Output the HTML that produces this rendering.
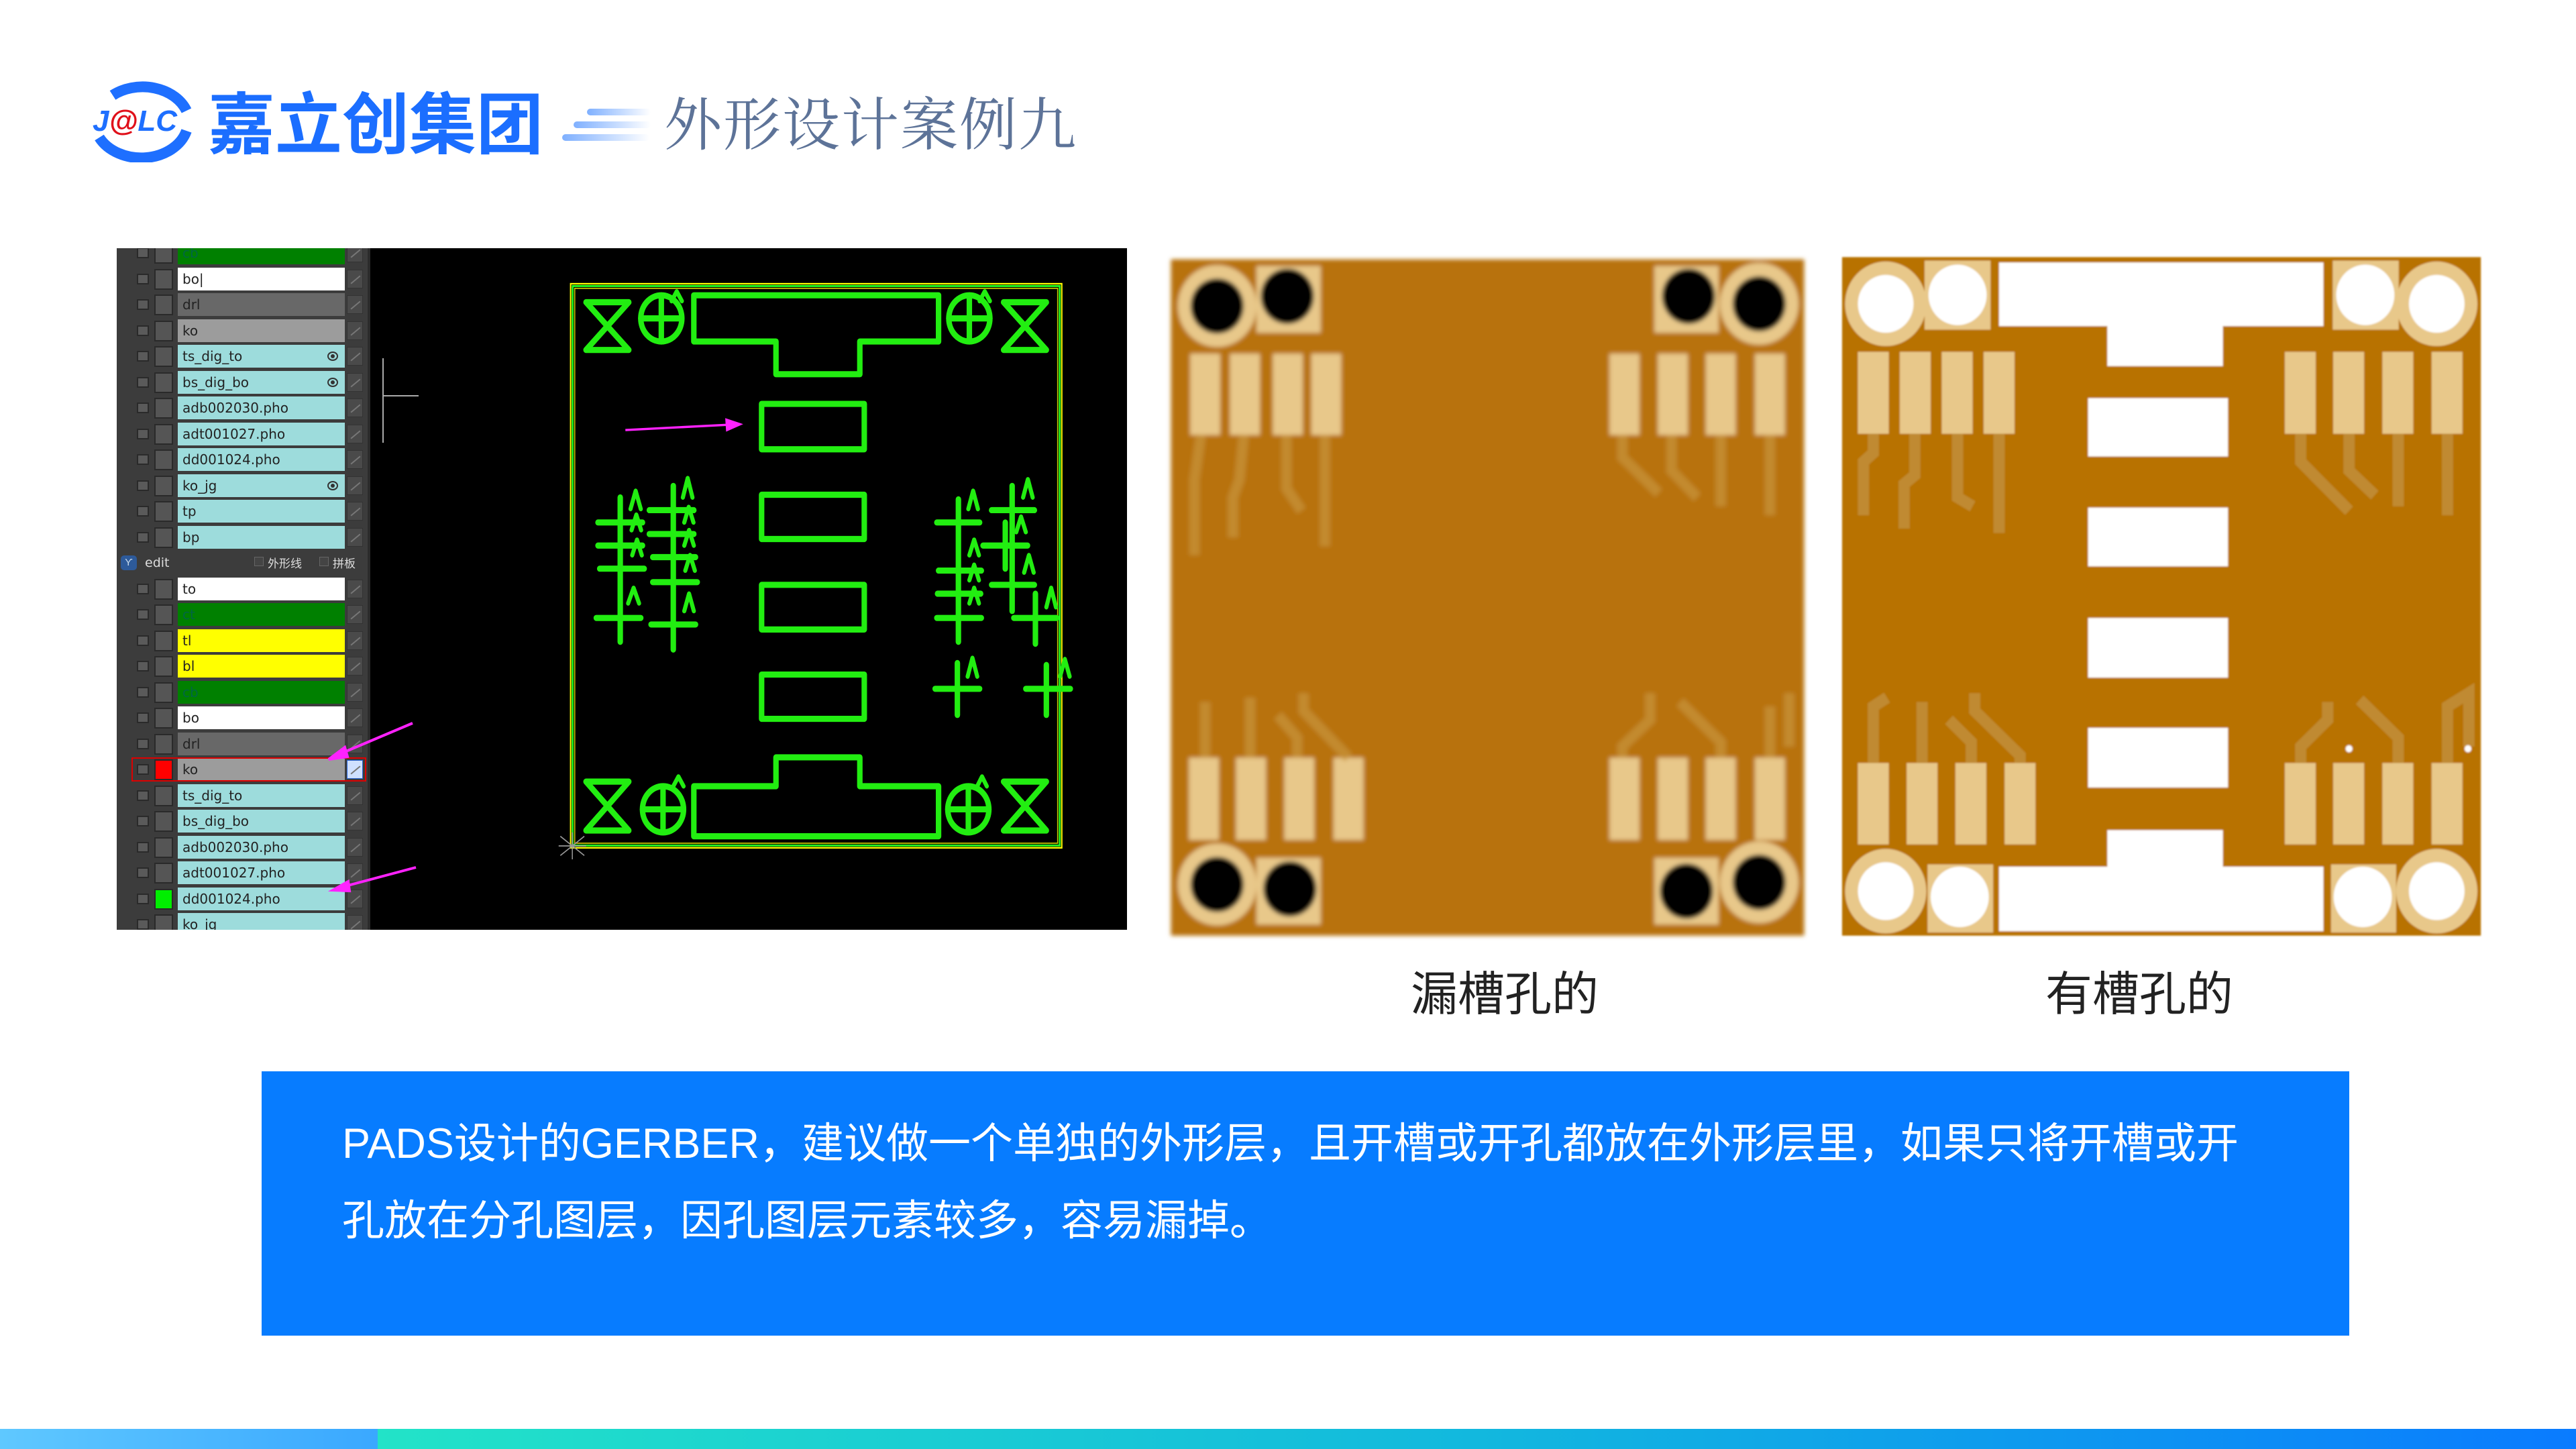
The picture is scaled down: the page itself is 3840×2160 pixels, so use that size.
<!DOCTYPE html>
<html><head><meta charset="utf-8">
<style>
*{margin:0;padding:0;box-sizing:border-box}
body{width:3840px;height:2160px;background:#fff;position:relative;overflow:hidden;font-family:"Liberation Sans","Noto Sans CJK SC",sans-serif}
.abs{position:absolute}
.row{position:absolute;left:0;width:380px;height:34px}
.cb1{position:absolute;left:30px;top:9px;width:18px;height:16px;background:#5a5a5a;border:2px solid #2a2a2a}
.cb2{position:absolute;left:56px;top:2px;width:28px;height:31px;background:#555;border:2px solid #2a2a2a}
.bar{position:absolute;left:91px;top:0;width:249px;height:34px;font-family:"DejaVu Sans",sans-serif;font-size:20px;line-height:34px;padding-left:7px;color:#222}
.ic{position:absolute;left:343px;top:3px;width:24px;height:28px;background:#4a4a4a;border:1px solid #333}
.ic:after{content:"";position:absolute;left:3px;top:13px;width:18px;height:2px;background:#777;transform:rotate(-40deg)}
.eye{position:absolute;right:10px;top:10px;width:16px;height:14px;border:2px solid #333;border-radius:50%}
.eye:after{content:"";position:absolute;left:3px;top:2px;width:6px;height:6px;background:#333;border-radius:50%}
</style></head><body>

<svg class="abs" style="left:128px;top:120px" width="165" height="122" viewBox="0 0 165 122">
 <path d="M40 22 A70 55 0 0 1 150 45" stroke="#1E6FFF" stroke-width="16" fill="none"/>
 <path d="M150 75 A70 55 0 0 1 20 85" stroke="#1E6FFF" stroke-width="16" fill="none"/>
 <text x="10" y="75" font-family="Liberation Sans" font-weight="bold" font-style="italic" font-size="44" fill="#1E6FFF">J<tspan fill="#E0101A">@</tspan>LC</text>
</svg>
<div class="abs" style="left:310px;top:118px;font-size:100px;font-weight:bold;color:#1B6EFF;line-height:120px;font-family:'Noto Sans CJK SC',sans-serif;letter-spacing:0px">嘉立创集团</div>
<div class="abs" style="left:875px;top:162px;width:95px;height:10px;border-radius:5px;background:linear-gradient(90deg,#7fb0ff,rgba(255,255,255,0))"></div>
<div class="abs" style="left:855px;top:181px;width:115px;height:10px;border-radius:5px;background:linear-gradient(90deg,#7fb0ff,rgba(255,255,255,0))"></div>
<div class="abs" style="left:838px;top:200px;width:130px;height:10px;border-radius:5px;background:linear-gradient(90deg,#7fb0ff,rgba(255,255,255,0))"></div>
<div class="abs" style="left:990px;top:124px;font-size:86px;color:#5D7398;line-height:110px;font-family:'Noto Serif CJK SC',serif;letter-spacing:2px">外形设计案例九</div>

<div class="abs" style="left:174px;top:370px;width:1506px;height:1016px;background:#000;overflow:hidden">
 <div class="abs" style="left:0;top:0;width:378px;height:1016px;background:#3c3c3c;border-right:4px solid #2b2b2b">
  <div style="position:absolute;left:0;top:-10px;width:380px">
   <div class="row" style="top:0"><div class="cb1"></div><div class="cb2"></div><div class="bar" style="background:#008000;color:#064">cb</div><div class="ic"></div></div>
   <div class="row" style="top:38.5px"><div class="cb1"></div><div class="cb2"></div><div class="bar" style="background:#fff">bo|</div><div class="ic"></div></div>
   <div class="row" style="top:77px"><div class="cb1"></div><div class="cb2"></div><div class="bar" style="background:#686868">drl</div><div class="ic"></div></div>
   <div class="row" style="top:115.5px"><div class="cb1"></div><div class="cb2"></div><div class="bar" style="background:#9c9c9c">ko</div><div class="ic"></div></div>
   <div class="row" style="top:154px"><div class="cb1"></div><div class="cb2"></div><div class="bar" style="background:#9ddcdc">ts_dig_to<div class="eye"></div></div><div class="ic"></div></div>
   <div class="row" style="top:192.5px"><div class="cb1"></div><div class="cb2"></div><div class="bar" style="background:#9ddcdc">bs_dig_bo<div class="eye"></div></div><div class="ic"></div></div>
   <div class="row" style="top:231px"><div class="cb1"></div><div class="cb2"></div><div class="bar" style="background:#9ddcdc">adb002030.pho</div><div class="ic"></div></div>
   <div class="row" style="top:269.5px"><div class="cb1"></div><div class="cb2"></div><div class="bar" style="background:#9ddcdc">adt001027.pho</div><div class="ic"></div></div>
   <div class="row" style="top:308px"><div class="cb1"></div><div class="cb2"></div><div class="bar" style="background:#9ddcdc">dd001024.pho</div><div class="ic"></div></div>
   <div class="row" style="top:346.5px"><div class="cb1"></div><div class="cb2"></div><div class="bar" style="background:#9ddcdc">ko_jg<div class="eye"></div></div><div class="ic"></div></div>
   <div class="row" style="top:385px"><div class="cb1"></div><div class="cb2"></div><div class="bar" style="background:#9ddcdc">tp</div><div class="ic"></div></div>
   <div class="row" style="top:423.5px"><div class="cb1"></div><div class="cb2"></div><div class="bar" style="background:#9ddcdc">bp</div><div class="ic"></div></div>
   <div class="row" style="top:462px;color:#ddd;font-size:19px;line-height:34px">
     <div style="position:absolute;left:6px;top:6px;width:24px;height:22px;background:#2d5a9a;border-radius:5px;color:#cde;font-size:15px;line-height:22px;text-align:center">Ƴ</div>
     <span style="position:absolute;left:42px;font-family:'DejaVu Sans',sans-serif">edit</span>
     <span style="position:absolute;left:205px;top:8px;width:14px;height:14px;border:1px solid #666;background:#444"></span>
     <span style="position:absolute;left:225px;font-family:'Noto Sans CJK SC',sans-serif;font-size:17px">外形线</span>
     <span style="position:absolute;left:302px;top:8px;width:14px;height:14px;border:1px solid #666;background:#444"></span>
     <span style="position:absolute;left:322px;font-family:'Noto Sans CJK SC',sans-serif;font-size:17px">拼板</span>
   </div>
   <div class="row" style="top:500.5px"><div class="cb1"></div><div class="cb2"></div><div class="bar" style="background:#fff">to</div><div class="ic"></div></div>
   <div class="row" style="top:539px"><div class="cb1"></div><div class="cb2"></div><div class="bar" style="background:#008000;color:#064">ct</div><div class="ic"></div></div>
   <div class="row" style="top:577.5px"><div class="cb1"></div><div class="cb2"></div><div class="bar" style="background:#ffff00">tl</div><div class="ic"></div></div>
   <div class="row" style="top:616px"><div class="cb1"></div><div class="cb2"></div><div class="bar" style="background:#ffff00">bl</div><div class="ic"></div></div>
   <div class="row" style="top:654.5px"><div class="cb1"></div><div class="cb2"></div><div class="bar" style="background:#008000;color:#064">cb</div><div class="ic"></div></div>
   <div class="row" style="top:693px"><div class="cb1"></div><div class="cb2"></div><div class="bar" style="background:#fff">bo</div><div class="ic"></div></div>
   <div class="row" style="top:731.5px"><div class="cb1"></div><div class="cb2"></div><div class="bar" style="background:#686868">drl</div><div class="ic"></div></div>
   <div class="row" style="top:770px"><div class="cb1"></div><div class="cb2" style="background:#f00"></div><div class="bar" style="background:#9c9c9c">ko</div><div class="ic" style="background:#cfe0ff;border-color:#2a66d8"></div><div style="position:absolute;left:22px;top:-1px;width:350px;height:36px;border:2px solid #d00"></div></div>
   <div class="row" style="top:808.5px"><div class="cb1"></div><div class="cb2"></div><div class="bar" style="background:#9ddcdc">ts_dig_to</div><div class="ic"></div></div>
   <div class="row" style="top:847px"><div class="cb1"></div><div class="cb2"></div><div class="bar" style="background:#9ddcdc">bs_dig_bo</div><div class="ic"></div></div>
   <div class="row" style="top:885.5px"><div class="cb1"></div><div class="cb2"></div><div class="bar" style="background:#9ddcdc">adb002030.pho</div><div class="ic"></div></div>
   <div class="row" style="top:924px"><div class="cb1"></div><div class="cb2"></div><div class="bar" style="background:#9ddcdc">adt001027.pho</div><div class="ic"></div></div>
   <div class="row" style="top:962.5px"><div class="cb1"></div><div class="cb2" style="background:#00ee00"></div><div class="bar" style="background:#9ddcdc">dd001024.pho</div><div class="ic"></div></div>
   <div class="row" style="top:1001px"><div class="cb1"></div><div class="cb2"></div><div class="bar" style="background:#9ddcdc">ko_jg</div><div class="ic"></div></div>
  </div>
 </div>
 <svg class="abs" style="left:0;top:0" width="1506" height="1016">
  <g stroke="#ff22ff" stroke-width="4" fill="#ff22ff">
   <line x1="441" y1="708" x2="330" y2="755"/><polygon points="316,762 340,744 344,758"/>
   <line x1="446" y1="923" x2="337" y2="952"/><polygon points="322,957 345,944 347,958"/>
  </g>
  <g stroke="#aaa" stroke-width="2"><line x1="397" y1="220" x2="450" y2="220"/><line x1="397" y1="164" x2="397" y2="290"/></g>
 </svg>
</div>

<svg class="abs" style="left:820px;top:400px" width="800" height="900" viewBox="0 0 1568 1568" preserveAspectRatio="none">
 <rect x="60" y="40" width="1435" height="1465" fill="none" stroke="#ffff00" stroke-width="4"/>
 <rect x="66" y="46" width="1423" height="1453" fill="none" stroke="#22ff22" stroke-width="5"/>
 <rect x="72" y="52" width="1411" height="1441" fill="none" stroke="#cccc00" stroke-width="3"/>
 <g stroke="#22ee11" stroke-width="16" fill="none" stroke-linecap="round" stroke-linejoin="round">
  <path d="M105 88H230L105 212H230Z"/><path d="M1325 88H1450L1325 212H1450Z"/>
  <path d="M105 1333H230L105 1460H230Z"/><path d="M1325 1333H1450L1325 1460H1450Z"/>
  <circle cx="325" cy="130" r="60"/><path d="M265 130H385M325 70V190"/>
  <circle cx="1225" cy="130" r="60"/><path d="M1165 130H1285M1225 70V190"/>
  <circle cx="330" cy="1405" r="60"/><path d="M270 1405H390M330 1345V1465"/>
  <circle cx="1222" cy="1405" r="60"/><path d="M1162 1405H1282M1222 1345V1465"/>
  <path d="M420 70H1135V190H905V275H660V190H420Z"/>
  <path d="M420 1475H1135V1345H905V1270H660V1345H420Z"/>
  <rect x="618" y="352" width="300" height="118"/><rect x="618" y="588" width="300" height="115"/>
  <rect x="618" y="822" width="300" height="116"/><rect x="618" y="1055" width="300" height="115"/>
  <path d="M205 595V970M140 660H270M140 720H270M145 780H275M135 908H265"/>
  <path d="M360 565V990M290 628H420M290 690H420M300 750H425M300 815H430M295 925H425"/>
  <path d="M1193 600V970M1130 660H1255M1135 785H1260M1132 845H1258M1130 908H1260"/>
  <path d="M1350 565V890M1290 628H1415M1290 822H1415M1330 660V780M1265 720H1395M1418 845V975M1355 908H1480"/>
  <path d="M1190 1025V1160M1125 1092H1255M1450 1030V1160M1390 1092H1520"/>
  <g stroke-width="12"><path d="M235 625L250 578L265 625M238 680L252 640L266 680M240 745L254 705L268 745M228 870L244 830L260 870"/>
  <path d="M388 595L402 545L416 595M392 660L405 620L419 660M392 720L406 680L420 720M395 785L409 745L423 785M392 890L406 845L420 890"/>
  <path d="M1222 625L1236 578L1250 625M1225 745L1239 705L1253 745M1225 810L1239 770L1253 810M1225 870L1239 830L1253 870"/>
  <path d="M1382 595L1396 548L1410 595M1362 685L1376 645L1390 685M1385 790L1399 745L1413 790M1450 880L1464 830L1478 880M1220 1060L1234 1012L1248 1060M1490 1060L1504 1015L1518 1060"/>
  <path d="M355 85L370 60L385 85M1255 85L1270 60L1285 85M360 1345L375 1320L390 1345M1248 1345L1262 1320L1276 1345"/></g>
 </g>
 <g stroke="#ff22ff" stroke-width="6" fill="#ff22ff"><line x1="220" y1="420" x2="525" y2="406"/><polygon points="555,405 515,393 517,420"/></g>
 <g stroke="#999" stroke-width="3"><path d="M30 1475L100 1525M30 1525L100 1475M65 1465V1535M25 1500H105"/></g>
</svg>

<svg class="abs" style="left:1720px;top:370px" width="1000" height="1040" viewBox="0 0 1568 1568" preserveAspectRatio="none">
 <defs><filter id="bl" x="-5%" y="-5%" width="110%" height="110%"><feGaussianBlur stdDeviation="5"/></filter></defs>
 <g filter="url(#bl)">
 <rect x="40" y="25" width="1480" height="1520" fill="#B87207"/>
 <g fill="#E8C88A">
  <circle cx="148" cy="130" r="92"/><rect x="240" y="40" width="150" height="150"/>
  <rect x="1170" y="40" width="150" height="150"/><circle cx="1415" cy="125" r="92"/>
  <circle cx="148" cy="1430" r="92"/><rect x="240" y="1370" width="150" height="150"/>
  <rect x="1170" y="1370" width="150" height="150"/><circle cx="1415" cy="1425" r="92"/>
  <rect x="85" y="237" width="70" height="183"/><rect x="178" y="237" width="70" height="183"/><rect x="278" y="237" width="70" height="183"/><rect x="368" y="237" width="70" height="183"/>
  <rect x="1065" y="237" width="70" height="183"/><rect x="1178" y="237" width="70" height="183"/><rect x="1290" y="237" width="70" height="183"/><rect x="1405" y="237" width="70" height="183"/>
  <rect x="82" y="1145" width="70" height="185"/><rect x="192" y="1145" width="70" height="185"/><rect x="305" y="1145" width="70" height="185"/><rect x="420" y="1145" width="70" height="185"/>
  <rect x="1065" y="1145" width="70" height="185"/><rect x="1178" y="1145" width="70" height="185"/><rect x="1290" y="1145" width="70" height="185"/><rect x="1405" y="1145" width="70" height="185"/>
 </g>
 <g stroke="#C99540" stroke-width="24" fill="none" opacity=".7">
  <path d="M110 420L95 520V690M210 420L200 520L185 560V650M310 420V540L345 590M400 420V670"/>
  <path d="M1095 420V470L1180 550M1210 420V500L1270 560M1325 420V580M1440 420V600"/>
  <path d="M120 1145V1020M225 1145V1010M335 1145V1100L290 1050M455 1145L350 1040V1000"/>
  <path d="M1095 1145V1120L1160 1060V1000M1325 1145V1110L1230 1020M1440 1145V1030M1485 1120V1000"/>
 </g>
 <g fill="#050505">
  <circle cx="148" cy="130" r="62"/><circle cx="312" cy="108" r="62"/><circle cx="1250" cy="108" r="62"/><circle cx="1415" cy="125" r="62"/>
  <circle cx="148" cy="1430" r="62"/><circle cx="318" cy="1440" r="62"/><circle cx="1245" cy="1445" r="62"/><circle cx="1415" cy="1425" r="62"/>
 </g>
 </g>
</svg>

<svg class="abs" style="left:2730px;top:370px" width="1000" height="1040" viewBox="0 0 1568 1568" preserveAspectRatio="none">
 <defs><filter id="bl2"><feGaussianBlur stdDeviation="2"/></filter></defs>
 <g filter="url(#bl2)">
 <rect x="25" y="20" width="1493" height="1525" fill="#B87206"/>
 <g stroke="#C08A30" stroke-width="26" fill="none">
  <path d="M98 417V460L75 480V600M195 417V510L170 530V630M295 417V560L330 580M392 417V640"/>
  <path d="M1097 417V480L1210 590M1210 417V500L1270 555M1325 417V580M1440 417V600"/>
  <path d="M98 1157V1030L130 1010M212 1157V1020M327 1157V1110L275 1060M441 1157V1140L335 1040V1000"/>
  <path d="M1097 1157V1120L1160 1060V1020M1325 1157V1100L1235 1015M1440 1157V1030L1490 1000V1120"/>
 </g>
 <g fill="#E8C88A">
  <circle cx="127" cy="125" r="95"/><rect x="218" y="28" width="154" height="155"/>
  <rect x="1172" y="28" width="154" height="155"/><circle cx="1415" cy="125" r="95"/>
  <circle cx="127" cy="1445" r="95"/><rect x="225" y="1385" width="153" height="153"/>
  <rect x="1168" y="1385" width="152" height="153"/><circle cx="1415" cy="1445" r="95"/>
  <rect x="62" y="233" width="72" height="184"/><rect x="160" y="233" width="72" height="184"/><rect x="258" y="233" width="72" height="184"/><rect x="356" y="233" width="72" height="184"/>
  <rect x="1060" y="233" width="72" height="184"/><rect x="1173" y="233" width="72" height="184"/><rect x="1288" y="233" width="72" height="184"/><rect x="1403" y="233" width="72" height="184"/>
  <rect x="62" y="1157" width="72" height="183"/><rect x="176" y="1157" width="72" height="183"/><rect x="290" y="1157" width="72" height="183"/><rect x="405" y="1157" width="72" height="183"/>
  <rect x="1060" y="1157" width="72" height="183"/><rect x="1173" y="1157" width="72" height="183"/><rect x="1288" y="1157" width="72" height="183"/><rect x="1403" y="1157" width="72" height="183"/>
 </g>
 <g fill="#fff">
  <circle cx="127" cy="125" r="65"/><circle cx="295" cy="105" r="68"/><circle cx="1248" cy="105" r="68"/><circle cx="1415" cy="125" r="65"/>
  <circle cx="127" cy="1445" r="65"/><circle cx="300" cy="1458" r="68"/><circle cx="1242" cy="1458" r="68"/><circle cx="1415" cy="1445" r="65"/>
  <path d="M392 32H1150V175H915V265H645V175H392Z"/>
  <path d="M392 1535H1150V1390H915V1308H645V1390H392Z"/>
  <rect x="600" y="337" width="327" height="131"/><rect x="600" y="583" width="327" height="132"/>
  <rect x="600" y="831" width="327" height="134"/><rect x="600" y="1078" width="327" height="134"/>
  <circle cx="1210" cy="1125" r="8"/><circle cx="1488" cy="1125" r="8"/>
 </g>
 </g>
</svg>

<div class="abs" style="left:2043px;top:1432px;width:400px;text-align:center;font-size:70px;color:#222;font-family:'Noto Sans CJK SC',sans-serif;line-height:90px">漏槽孔的</div>
<div class="abs" style="left:2989px;top:1432px;width:400px;text-align:center;font-size:70px;color:#222;font-family:'Noto Sans CJK SC',sans-serif;line-height:90px">有槽孔的</div>

<div class="abs" style="left:390px;top:1597px;width:3112px;height:394px;background:#077CFF"></div>
<div class="abs" style="left:510px;top:1648px;width:2950px;color:#fff;font-size:63px;line-height:115px;font-family:'Liberation Sans','Noto Sans CJK SC',sans-serif;white-space:nowrap">PADS设计的GERBER，建议做一个单独的外形层，且开槽或开孔都放在外形层里，如果只将开槽或开<br>孔放在分孔图层，因孔图层元素较多，容易漏掉。</div>

<div class="abs" style="left:0;top:2130px;width:563px;height:30px;background:linear-gradient(90deg,#5fc8ff,#3aa8ff)"></div>
<div class="abs" style="left:563px;top:2130px;width:3277px;height:30px;background:linear-gradient(90deg,#22E3C8,#12B8DE 50%,#0A7BFF)"></div>
</body></html>
